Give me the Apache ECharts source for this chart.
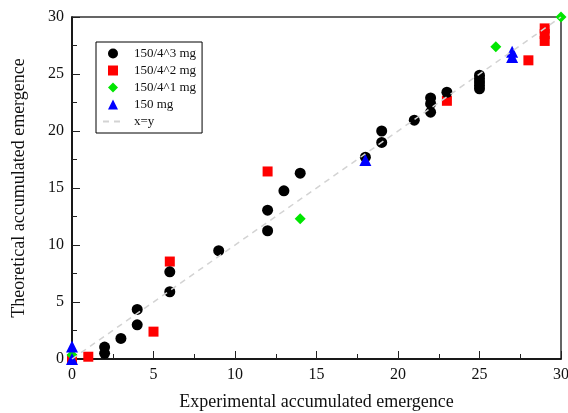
<!DOCTYPE html>
<html>
<head>
<meta charset="utf-8">
<script src="https://cdn.jsdelivr.net/npm/echarts@6/dist/echarts.min.js"></script>
<style>
html,body{margin:0;padding:0;background:#fff;}
#chart{width:568px;height:413px;}
</style>
</head>
<body>
<div id="chart"></div>
<script>
// ---- data ----
const seriesNames = ['150/4^3 mg', '150/4^2 mg', '150/4^1 mg', '150 mg', 'x=y'];
const legendIcons = ['circle', 'path://M0,0L10,0L10,10L0,10Z', 'path://M5,0L10,5L5,10L0,5Z', 'path://M5,0L10,10L0,10Z'];
const blackX = [2, 2, 3, 4, 4, 6, 6, 9, 12, 12, 13, 14, 18, 19, 19, 21, 22, 22, 22, 23, 25, 25, 25, 25, 25];
const blackY = [0.5, 1.05, 1.8, 3.0, 4.35, 5.9, 7.65, 9.5, 11.25, 13.05, 14.75, 16.3, 17.7, 19.0, 20.0, 20.95, 21.65, 22.4, 22.9, 23.4, 23.7, 24.0, 24.3, 24.6, 24.9];
const redX = [0, 1, 5, 6, 12, 23, 28, 29, 29, 29];
const redY = [0, 0.2, 2.4, 8.55, 16.45, 22.65, 26.2, 27.9, 28.5, 29.0];
const greenX = [0, 14, 26, 30];
const greenY = [0.35, 12.3, 27.4, 30];
const blueX = [0, 0, 18, 27, 27];
const blueY = [0, 1.1, 17.45, 26.5, 26.95];
const refX = [0, 30];
const refY = [0, 30];
const axisMin = 0, axisMax = 30, axisStep = 5;

const zip = (xs, ys) => xs.map((x, i) => [x, ys[i]]);
const font = '"Liberation Serif", "Times New Roman", serif';

const chart = echarts.init(document.getElementById('chart'), null, {renderer: 'canvas'});
const axisCommon = {
  type: 'value', min: axisMin, max: axisMax, interval: axisStep,
  axisLine: {show: true, onZero: false, lineStyle: {color: '#000', width: 1.5}},
  axisTick: {show: true, inside: true, length: 8, lineStyle: {color: '#222', width: 1}},
  minorTick: {show: true, splitNumber: 2, length: 5, lineStyle: {color: '#222', width: 1}},
  splitLine: {show: false},
  axisLabel: {color: '#111', fontFamily: font, fontSize: 16, margin: 8},
  nameLocation: 'middle',
  nameTextStyle: {color: '#111', fontFamily: font, fontSize: 18}
};
const legendData = seriesNames.map((n, i) => i < legendIcons.length
  ? {name: n, icon: legendIcons[i]}
  : {name: n, itemStyle: {opacity: 0}});
chart.setOption({
  animation: false,
  backgroundColor: '#fff',
  grid: {left: 72, right: 7, top: 17, bottom: 54, outerBoundsMode: 'none', containLabel: false,
    show: true, borderColor: '#333', borderWidth: 1.5, backgroundColor: 'transparent'},
  xAxis: Object.assign({}, axisCommon, {name: 'Experimental accumulated emergence', nameGap: 34}),
  yAxis: Object.assign({}, axisCommon, {name: 'Theoretical accumulated emergence', nameGap: 44}),
  legend: {
    orient: 'vertical', left: 96, top: 42,
    data: legendData,
    symbolKeepAspect: true,
    itemWidth: 20, itemHeight: 10, itemGap: 4,
    padding: [5, 6, 5, 6],
    borderColor: '#000', borderWidth: 1,
    textStyle: {fontFamily: font, fontSize: 13, color: '#111', padding: [0, 0, 0, 6]}
  },
  series: [
    {name: seriesNames[0], type: 'scatter', z: 4, symbol: 'circle', symbolSize: 11,
      itemStyle: {color: '#000', opacity: 1}, data: zip(blackX, blackY)},
    {name: seriesNames[1], type: 'scatter', z: 2, symbol: 'rect', symbolSize: 10,
      itemStyle: {color: '#ff0000', opacity: 1}, data: zip(redX, redY)},
    {name: seriesNames[2], type: 'scatter', z: 3, symbol: 'diamond', symbolSize: 11,
      itemStyle: {color: '#00e600', opacity: 1}, data: zip(greenX, greenY)},
    {name: seriesNames[3], type: 'scatter', z: 5, symbol: 'triangle', symbolSize: 12,
      itemStyle: {color: '#0000ff', opacity: 1}, data: zip(blueX, blueY)},
    {name: seriesNames[4], type: 'line', z: 6, symbol: 'none', showSymbol: false,
      lineStyle: {color: '#d3d3d3', width: 1.5, type: [6, 5]},
      itemStyle: {color: '#d3d3d3'},
      data: zip(refX, refY)}
  ]
});
</script>
</body>
</html>
